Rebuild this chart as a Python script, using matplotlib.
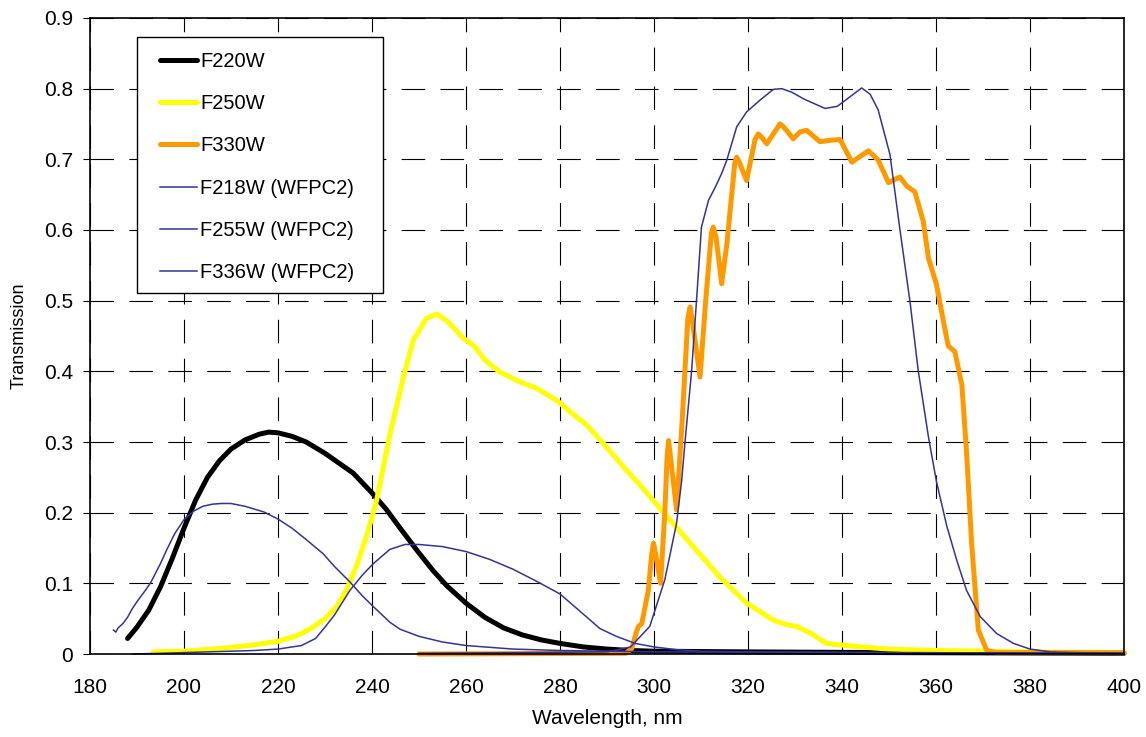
import matplotlib
matplotlib.use('Agg')
import matplotlib.pyplot as plt
from matplotlib.patches import Rectangle

plt.rcParams['font.family'] = ['Liberation Sans', 'DejaVu Sans']
plt.rcParams['lines.scale_dashes'] = False

# F220W (thick black)
f220w_wl = [188, 190, 192.5, 195, 197.5, 200, 202.5, 205, 207.5, 210, 213, 216, 218, 220, 223, 226,
            230, 233, 236, 240, 243, 246, 250, 253, 256, 260, 264, 268, 272, 276, 280, 285, 290, 295,
            300, 320, 350, 400]
f220w_tr = [0.022, 0.038, 0.062, 0.095, 0.135, 0.178, 0.218, 0.25, 0.273, 0.29, 0.303, 0.311, 0.314,
            0.313, 0.308, 0.3, 0.284, 0.27, 0.256, 0.228, 0.205, 0.178, 0.143, 0.118, 0.096, 0.072,
            0.052, 0.037, 0.027, 0.02, 0.015, 0.01, 0.007, 0.005, 0.004, 0.003, 0.002, 0.001]

# F250W (thick yellow)
f250w_wl = [193.5, 200, 208, 215, 220, 224, 227, 230, 232.5, 234.5, 236.7, 239, 241, 243.8, 246.7,
            248.8, 251.6, 253.8, 256.2, 259.4, 261.9, 264, 267.2, 271.5, 275, 279.3, 282.1, 285.7,
            289.2, 293.5, 297.7, 301.3, 307.7, 314, 319.7, 325.4, 328, 330.3, 333.2, 336.7, 343.8,
            350, 360, 370, 380, 400]
f250w_tr = [0.003, 0.004, 0.008, 0.013, 0.018, 0.026, 0.036, 0.05, 0.067, 0.09, 0.124, 0.17, 0.218,
            0.31, 0.392, 0.444, 0.475, 0.481, 0.47, 0.447, 0.435, 0.416, 0.399, 0.385, 0.376, 0.359,
            0.343, 0.324, 0.298, 0.265, 0.234, 0.206, 0.157, 0.109, 0.072, 0.048, 0.042, 0.039,
            0.03, 0.015, 0.01, 0.007, 0.005, 0.004, 0.003, 0.002]

# F330W (thick orange)
f330w_wl = [250, 294, 295.3, 296.2, 296.7, 297.4, 298.8, 299.5, 299.9, 300.4, 301.4, 302.3, 302.8,
            303.1, 303.5, 304.8, 306, 307.2, 307.7, 308.3, 309.8, 311, 312.2, 312.6, 313.2, 314.4,
            315.5, 317.2, 317.6, 318.2, 319.7, 321.5, 322.2, 322.8, 324, 326.3, 326.8, 327.4, 328.2,
            329.6, 331.1, 332.5, 335.3, 337.5, 339.6, 342.1, 345.6, 347.7, 349.9, 352.3, 353.8,
            355.5, 357.3, 358.4, 360.1, 361.6, 362.6, 364, 365.5, 366.5, 367.6, 369, 370.8, 373,
            400]
f330w_tr = [0.0, 0.001, 0.008, 0.03, 0.039, 0.043, 0.09, 0.14, 0.157, 0.14, 0.1, 0.199, 0.28,
            0.302, 0.28, 0.204, 0.33, 0.475, 0.491, 0.465, 0.392, 0.5, 0.595, 0.604, 0.59, 0.524,
            0.58, 0.695, 0.703, 0.695, 0.67, 0.728, 0.736, 0.732, 0.722, 0.745, 0.75, 0.747, 0.741,
            0.729, 0.739, 0.741, 0.725, 0.727, 0.728, 0.696, 0.712, 0.699, 0.667, 0.675, 0.662,
            0.654, 0.612, 0.56, 0.523, 0.47, 0.436, 0.428, 0.381, 0.286, 0.155, 0.034, 0.005,
            0.002, 0.002]

# F218W (WFPC2)
f218w_wl = [185, 185.5, 186, 187, 188, 189, 190, 191, 192, 193, 194, 195, 196.3, 198, 200, 202,
            204, 206, 208, 210, 213, 217, 220, 223, 226, 229.6, 232, 235.3, 238, 240.3, 243.8, 246,
            250, 255, 260, 270, 280, 300, 350, 400]
f218w_tr = [0.034, 0.031, 0.037, 0.043, 0.052, 0.064, 0.074, 0.083, 0.092, 0.102, 0.115, 0.128,
            0.147, 0.17, 0.19, 0.202, 0.209, 0.212, 0.213, 0.213, 0.209, 0.201, 0.191, 0.178, 0.162,
            0.142, 0.124, 0.102, 0.082, 0.067, 0.045, 0.035, 0.025, 0.017, 0.012, 0.007, 0.005,
            0.003, 0.002, 0.001]

# F255W (WFPC2)
f255w_wl = [189, 195, 200, 205, 210, 215, 220, 225, 228, 230, 232, 235.3, 238, 240.3, 243.8, 247,
            250, 255, 260, 265, 270, 275, 280, 284, 288.5, 292, 296, 300, 305, 310, 320, 350, 400]
f255w_tr = [0.0, 0.001, 0.002, 0.003, 0.004, 0.005, 0.007, 0.012, 0.022, 0.038, 0.055, 0.09,
            0.112, 0.128, 0.148, 0.155, 0.155, 0.152, 0.145, 0.134, 0.12, 0.103, 0.085, 0.062,
            0.036, 0.025, 0.015, 0.01, 0.006, 0.004, 0.003, 0.002, 0.001]

# F336W (WFPC2)
f336w_wl = [250, 290, 295, 299.1, 302.3, 304.8, 305.9, 306.6, 308, 309.1, 310.1, 311.6, 313,
            314.4, 315.5, 317.6, 319.7, 322.6, 325.4, 327.2, 329.3, 332, 336.4, 339, 341, 344.2,
            346, 347.7, 350.2, 352.3, 354.5, 356.2, 358.4, 360.1, 362.3, 364.4, 366.5, 369.4,
            372.9, 376.5, 380, 384.3, 390, 400]
f336w_tr = [0.001, 0.003, 0.01, 0.039, 0.105, 0.185, 0.246, 0.3, 0.4, 0.505, 0.604, 0.642, 0.66,
            0.68, 0.699, 0.746, 0.767, 0.784, 0.799, 0.8, 0.795, 0.785, 0.772, 0.775, 0.785, 0.801,
            0.792, 0.77, 0.707, 0.602, 0.497, 0.402, 0.307, 0.244, 0.181, 0.133, 0.09, 0.053,
            0.029, 0.015, 0.007, 0.003, 0.002, 0.001]

navy = '#333399'

fig = plt.figure(figsize=(11.46, 7.37), dpi=100)
ax = fig.add_axes([0.0785, 0.1126, 0.9023, 0.863])

ax.grid(True, color='black', linestyle=(0, (17, 11)), linewidth=0.8)
ax.set_axisbelow(True)

ax.plot(f220w_wl, f220w_tr, color='black', lw=3.6, label='F220W', solid_capstyle='round', clip_on=False)
ax.plot(f250w_wl, f250w_tr, color='#FFFF00', lw=3.6, label='F250W', solid_capstyle='round', clip_on=False)
ax.plot(f330w_wl, f330w_tr, color='#FF9900', lw=3.6, label='F330W', solid_capstyle='round', clip_on=False)
ax.plot(f218w_wl, f218w_tr, color=navy, lw=1.1, label='F218W (WFPC2)', clip_on=False)
ax.plot(f255w_wl, f255w_tr, color=navy, lw=1.1, label='F255W (WFPC2)', clip_on=False)
ax.plot(f336w_wl, f336w_tr, color=navy, lw=1.1, label='F336W (WFPC2)', clip_on=False)

ax.set_xlim(180, 400)
ax.set_ylim(0, 0.9)
ax.set_xticks(range(180, 401, 20))
ax.set_yticks([0, 0.1, 0.2, 0.3, 0.4, 0.5, 0.6, 0.7, 0.8, 0.9])
ax.set_yticklabels(['0', '0.1', '0.2', '0.3', '0.4', '0.5', '0.6', '0.7', '0.8', '0.9'])
ax.tick_params(axis='y', direction='out', length=5, width=0.8, labelsize=15, pad=7)
ax.tick_params(axis='x', direction='in', length=0, labelsize=15, pad=17)
for s in ax.spines.values():
    s.set_linewidth(1.2)
    s.set_color('black')

ax.set_xlabel('Wavelength, nm', fontsize=15, labelpad=9)
ax.set_ylabel('Transmission', fontsize=13, labelpad=12)

# legend box drawn as a plain rectangle, entries placed inside it
ax.add_patch(Rectangle((0.0455, 0.5676), 0.2379, 0.4025, transform=ax.transAxes,
                       facecolor='white', edgecolor='black', linewidth=1.0, zorder=5))
leg = ax.legend(loc='upper left', bbox_to_anchor=(0.0677, 0.947), borderaxespad=0, fontsize=14.5,
                frameon=False, labelspacing=1.16, handlelength=1.85, handletextpad=0.15, borderpad=0)
leg.set_zorder(6)

fig.savefig('out.png', dpi=100)
